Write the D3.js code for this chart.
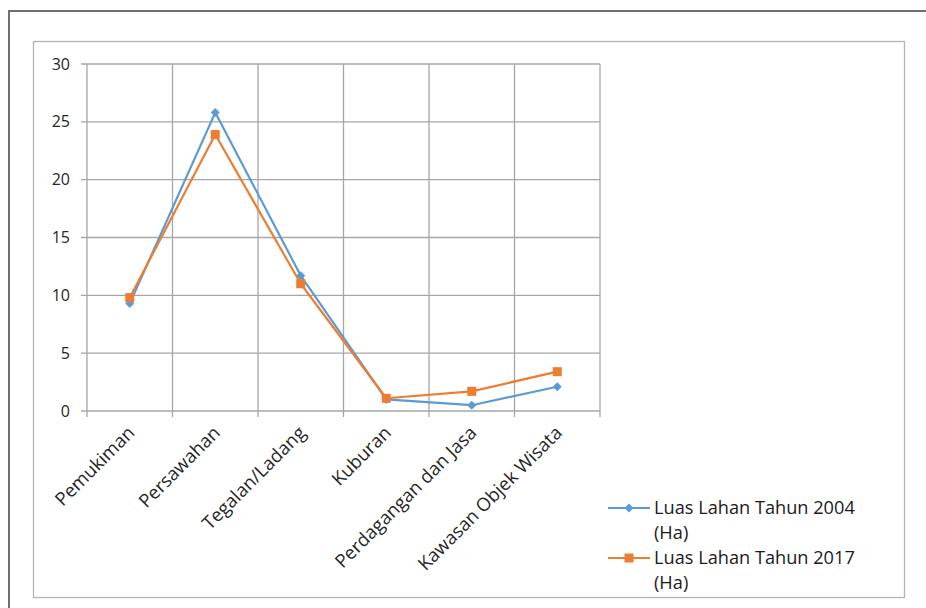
<!DOCTYPE html>
<html>
<head>
<meta charset="utf-8">
<script src="https://cdn.jsdelivr.net/npm/d3@7"></script>
<style>
  body { margin: 0; background: #fff; }
  svg { display: block; }
</style>
</head>
<body>
<svg id="Chart"></svg>
<script>
let categories = ["Pemukiman", "Persawahan", "Tegalan/Ladang", "Kuburan", "Perdagangan dan Jasa", "Kawasan Objek Wisata"]
let values2004 = [9.3, 25.8, 11.7, 1.0, 0.5, 2.1]
let values2017 = [9.8, 23.9, 11.0, 1.1, 1.7, 3.4]
let seriesNames = ["Luas Lahan Tahun 2004", "Luas Lahan Tahun 2017"]
let yTicks = [0, 5, 10, 15, 20, 25, 30]

let config = {}

function initConfig() {
    let width = 926
    let height = 608
    let plot = {left: 87, right: 600, top: 64, bottom: 411}
    let fontFamily = "'Open Sans', sans-serif"
    let textColor = "#262626"
    let gridColor = "#a6a6a6"
    let colors = ["#5b9bd5", "#ed7d31"]
    let container = d3.select("#Chart")
        .attr("width", width)
        .attr("height", height)
    config = {width, height, plot, fontFamily, textColor, gridColor, colors, container}
}

function drawFrames() {
    let {container} = config
    // outer (document) frame
    container.append("path")
        .attr("d", "M9,608 V11 H926")
        .attr("fill", "none")
        .attr("stroke", "#6f6f6f")
        .attr("stroke-width", 2)
    // chart area frame
    container.append("rect")
        .attr("x", 33.5).attr("y", 41.5)
        .attr("width", 871).attr("height", 556)
        .attr("fill", "none")
        .attr("stroke", "#b4b4b4")
        .attr("stroke-width", 1.3)
}

function drawAxes(x, y) {
    let {container, plot, gridColor, textColor, fontFamily} = config

    // horizontal grid + y labels
    let yg = container.append("g")
    yTicks.forEach(t => {
        yg.append("line")
            .attr("x1", plot.left - 6).attr("x2", plot.right)
            .attr("y1", y(t)).attr("y2", y(t))
            .attr("stroke", gridColor).attr("stroke-width", 1.3)
        yg.append("text")
            .attr("x", plot.left - 17)
            .attr("y", y(t))
            .attr("dy", "0.35em")
            .attr("text-anchor", "end")
            .attr("font-family", fontFamily)
            .attr("font-size", "16px")
            .attr("fill", textColor)
            .text(t)
    })

    // vertical grid at category boundaries
    let edges = categories.map(c => x(c)).concat([x.range()[1]])
    edges.forEach(e => {
        container.append("line")
            .attr("x1", e).attr("x2", e)
            .attr("y1", plot.top).attr("y2", plot.bottom + 6)
            .attr("stroke", gridColor).attr("stroke-width", 1.3)
    })

    // rotated category labels
    categories.forEach(c => {
        let cx = x(c) + x.bandwidth() / 2 + 6
        container.append("text")
            .attr("transform", `translate(${cx},${plot.bottom + 23}) rotate(-45)`)
            .attr("text-anchor", "end")
            .attr("font-family", fontFamily)
            .attr("font-size", "18.5px")
            .attr("fill", textColor)
            .text(c)
    })
}

function drawSeries(x, y) {
    let {container, colors} = config
    let line = d3.line()
        .x((d, i) => x(categories[i]) + x.bandwidth() / 2)
        .y(d => y(d))

    let series = [values2004, values2017]
    series.forEach((vals, s) => {
        container.append("path")
            .datum(vals)
            .attr("d", line)
            .attr("fill", "none")
            .attr("stroke", colors[s])
            .attr("stroke-width", 2.2)
            .attr("stroke-linejoin", "round")
        let pts = container.append("g")
        vals.forEach((v, i) => {
            let px = x(categories[i]) + x.bandwidth() / 2
            let py = y(v)
            drawMarker(pts, s, px, py, colors[s])
        })
    })
}

function drawMarker(g, s, px, py, color) {
    if (s === 0) {
        g.append("path")
            .attr("d", `M${px},${py - 4.5} L${px + 4.5},${py} L${px},${py + 4.5} L${px - 4.5},${py} Z`)
            .attr("fill", color)
    } else {
        g.append("rect")
            .attr("x", px - 4.5).attr("y", py - 4.5)
            .attr("width", 9).attr("height", 9)
            .attr("fill", color)
    }
}

function drawLegend() {
    let {container, colors, fontFamily} = config
    let lx = 608, ly = [508, 558]
    seriesNames.forEach((name, s) => {
        container.append("line")
            .attr("x1", lx).attr("x2", lx + 42)
            .attr("y1", ly[s]).attr("y2", ly[s])
            .attr("stroke", colors[s]).attr("stroke-width", 2.2)
        drawMarker(container, s, lx + 21, ly[s], colors[s])
        let t = container.append("text")
            .attr("x", lx + 46)
            .attr("y", ly[s])
            .attr("dy", "0.35em")
            .attr("font-family", fontFamily)
            .attr("font-size", "18.2px")
            .attr("fill", "#1a1a1a")
        t.append("tspan").text(name)
        t.append("tspan").attr("x", lx + 46).attr("dy", 25).text("(Ha)")
    })
}

function drawChart() {
    let {plot} = config
    let x = d3.scaleBand().domain(categories).range([plot.left, plot.right]).padding(0)
    let y = d3.scaleLinear().domain([0, 30]).range([plot.bottom, plot.top])
    drawFrames()
    drawAxes(x, y)
    drawSeries(x, y)
    drawLegend()
}

initConfig()
drawChart()
</script>
</body>
</html>
